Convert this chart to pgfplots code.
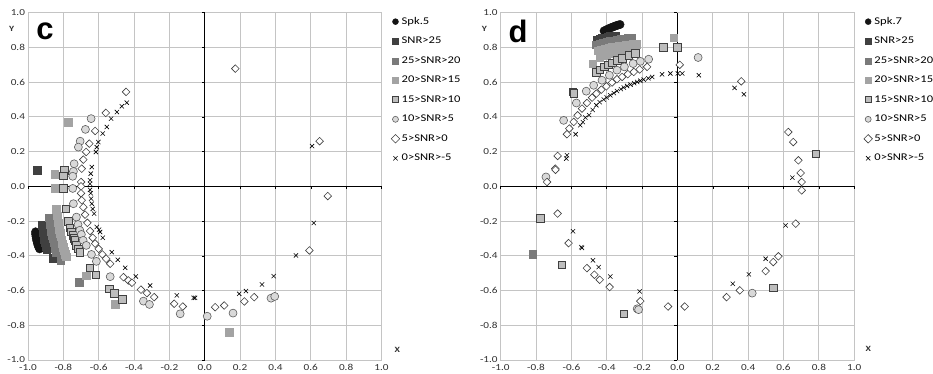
\documentclass[border=0pt]{standalone}
\usepackage{fontspec}
\setmainfont{Carlito}[FakeStretch=1.22]
\newfontfamily\arialfont{Liberation Sans}
\usepackage{pgfplots}
\pgfplotsset{compat=1.18}
\definecolor{cA}{HTML}{141414}
\definecolor{cB}{HTML}{404040}
\definecolor{cC}{HTML}{7A7A7A}
\definecolor{cD}{HTML}{A3A3A3}
\definecolor{cE}{HTML}{BDBDBD}
\definecolor{cF}{HTML}{D9D9D9}
\definecolor{gridc}{HTML}{C4C4C4}
\definecolor{tickc}{HTML}{303030}
\pgfplotsset{
 panel/.style={
  scale only axis, width=353.5pt, height=347.3pt,
  xmin=-1,xmax=1,ymin=-1,ymax=1, clip=false,
  xtick={-1,-0.8,-0.6,-0.4,-0.2,0,0.2,0.4,0.6,0.8,1},
  ytick={-1,-0.8,-0.6,-0.4,-0.2,0,0.2,0.4,0.6,0.8,1},
  xticklabels={-1.0,-0.8,-0.6,-0.4,-0.2,0.0,0.2,0.4,0.6,0.8,1.0},
  yticklabels={-1.0,-0.8,-0.6,-0.4,-0.2,0.0,0.2,0.4,0.6,0.8,1.0},
  grid=major, major grid style={draw=gridc, line width=0.9pt},
  axis line style={draw=gridc, line width=0.9pt},
  major tick length=0pt,
  tick label style={font=\fontsize{9.2}{10}\selectfont, text=tickc},
  xticklabel style={yshift=-0.5pt},
  yticklabel style={xshift=0.5pt},
  legend style={at={(1.027,0.993)}, anchor=north west, draw=none, fill=none,
     inner sep=0pt, font=\fontsize{10.3}{11}\selectfont, row sep=7.3pt,
     /tikz/every even column/.append style={column sep=-2pt}},
  legend cell align=left,
  legend image code/.code={\draw[##1,mark size=3pt] plot coordinates {(0pt,0pt)};},
 },
 sA/.style={only marks, mark=*, mark size=4.2pt, draw=cA, fill=cA},
 sB/.style={only marks, mark=square*, mark size=3.8pt, draw=cB, fill=cB},
 sC/.style={only marks, mark=square*, mark size=3.8pt, draw=cC, fill=cC},
 sD/.style={only marks, mark=square*, mark size=3.8pt, draw=cD, fill=cD},
 sE/.style={only marks, mark=square*, mark size=3.8pt, draw=cB, fill=cE, line width=0.7pt},
 sF/.style={only marks, mark=*, mark size=4pt, draw=cB!85, fill=cF, line width=0.6pt},
 sG/.style={only marks, mark=square*, mark size=2.7pt, mark options={rotate=45}, draw=cB, fill=white, line width=0.6pt},
 sH/.style={only marks, mark=x, mark size=3pt, draw=black, line width=0.6pt},
}
\newcommand\zeroaxes{%
 \draw[black, line width=0.8pt] (axis cs:-1,0) -- (axis cs:1,0);
 \draw[black, line width=0.8pt] (axis cs:0,-1) -- (axis cs:0,1);
 \pgfplotsinvokeforeach{-1,-0.8,-0.6,-0.4,-0.2,0.2,0.4,0.6,0.8,1}{%
   \draw[black, line width=0.6pt] (axis cs:##1,0) -- ++(0pt,-3pt);
   \draw[black, line width=0.6pt] (axis cs:0,##1) -- ++(-3pt,0pt);}%
}
\begin{document}
\begin{tikzpicture}
\useasboundingbox (0,0) rectangle (933pt,374pt);
% ---------------- panel c
\begin{axis}[panel, at={(28pt,14pt)}, anchor=south west]
\zeroaxes
\addplot[sA] coordinates {(-0.957,-0.262)(-0.957,-0.275)(-0.955,-0.288)(-0.953,-0.301)(-0.950,-0.314)(-0.947,-0.327)(-0.943,-0.339)(-0.939,-0.350)(-0.934,-0.360)};
\addlegendentry{Spk.5}
\addplot[sB] coordinates {(-0.918,-0.225)(-0.917,-0.245)(-0.915,-0.265)(-0.912,-0.285)(-0.908,-0.305)(-0.904,-0.325)(-0.900,-0.345)(-0.895,-0.365)(-0.949,0.092)(-0.860,-0.413)};
\addlegendentry{SNR>25}
\addplot[sC] coordinates {(-0.880,-0.180)(-0.878,-0.200)(-0.875,-0.220)(-0.872,-0.240)(-0.868,-0.260)(-0.864,-0.280)(-0.860,-0.300)(-0.855,-0.320)(-0.850,-0.340)(-0.845,-0.360)(-0.840,-0.380)(-0.815,-0.425)(-0.709,-0.552)};
\addlegendentry{25>SNR>20}
\addplot[sD] coordinates {(-0.840,-0.130)(-0.838,-0.150)(-0.835,-0.170)(-0.832,-0.190)(-0.830,-0.210)(-0.826,-0.230)(-0.822,-0.250)(-0.818,-0.270)(-0.814,-0.290)(-0.810,-0.310)(-0.805,-0.330)(-0.800,-0.350)(-0.795,-0.370)(-0.790,-0.390)(-0.785,-0.405)(-0.773,0.369)(-0.850,0.069)(-0.850,-0.010)(-0.507,-0.680)(0.140,-0.840)(-0.670,-0.515)};
\addlegendentry{20>SNR>15}
\addplot[sE] coordinates {(-0.794,0.092)(-0.800,0.060)(-0.800,-0.010)(-0.786,-0.130)(-0.773,-0.200)(-0.764,-0.240)(-0.754,-0.263)(-0.745,-0.282)(-0.740,-0.300)(-0.735,-0.311)(-0.726,-0.340)(-0.715,-0.360)(-0.707,-0.379)(-0.650,-0.470)(-0.616,-0.510)(-0.540,-0.590)(-0.513,-0.615)(-0.467,-0.650)};
\addlegendentry{15>SNR>10}
\addplot[sF] coordinates {(-0.643,0.390)(-0.675,0.328)(-0.705,0.260)(-0.715,0.226)(-0.739,0.130)(-0.743,0.086)(-0.747,0.058)(-0.747,-0.012)(-0.743,-0.100)(-0.726,-0.177)(-0.717,-0.220)(-0.707,-0.253)(-0.698,-0.277)(-0.688,-0.311)(-0.670,-0.340)(-0.641,-0.392)(-0.613,-0.432)(-0.535,-0.520)(-0.347,-0.661)(-0.313,-0.680)(-0.139,-0.734)(0.014,-0.748)(0.160,-0.730)(0.375,-0.644)(0.396,-0.634)};
\addlegendentry{10>SNR>5}
\addplot[sG] coordinates {(-0.445,0.544)(-0.560,0.423)(-0.620,0.319)(-0.653,0.246)(-0.671,0.198)(-0.687,0.154)(-0.696,0.102)(-0.700,0.025)(-0.700,0.000)(-0.700,-0.040)(-0.696,-0.080)(-0.687,-0.120)(-0.677,-0.163)(-0.664,-0.210)(-0.649,-0.257)(-0.634,-0.296)(-0.620,-0.330)(-0.600,-0.360)(-0.579,-0.392)(-0.558,-0.417)(-0.535,-0.446)(-0.460,-0.523)(-0.432,-0.542)(-0.412,-0.555)(-0.361,-0.595)(-0.327,-0.615)(-0.286,-0.638)(-0.173,-0.676)(-0.124,-0.692)(0.059,-0.696)(0.110,-0.686)(0.173,0.678)(0.650,0.260)(0.696,-0.056)(0.592,-0.369)(0.280,-0.638)(0.224,-0.663)};
\addlegendentry{5>SNR>0}
\addplot[sH] coordinates {(-0.441,0.482)(-0.469,0.461)(-0.497,0.428)(-0.530,0.390)(-0.554,0.342)(-0.577,0.304)(-0.602,0.255)(-0.611,0.226)(-0.616,0.198)(-0.639,0.111)(-0.645,0.073)(-0.649,0.035)(-0.649,0.015)(-0.649,-0.020)(-0.645,-0.040)(-0.643,-0.071)(-0.639,-0.100)(-0.634,-0.130)(-0.626,-0.157)(-0.611,-0.234)(-0.598,-0.250)(-0.592,-0.263)(-0.577,-0.296)(-0.526,-0.379)(-0.492,-0.423)(-0.450,-0.469)(-0.390,-0.519)(-0.309,-0.571)(-0.158,-0.628)(-0.063,-0.642)(-0.055,-0.642)(0.195,-0.619)(0.233,-0.603)(0.324,-0.565)(0.390,-0.517)(0.516,-0.398)(0.617,-0.211)(0.607,0.232)};
\addlegendentry{0>SNR>-5}
\node[font=\bfseries\fontsize{8}{9}\selectfont, text=tickc] at (rel axis cs:-0.046,0.952) {Y};
\node[font=\bfseries\fontsize{8}{9}\selectfont, text=tickc] at (rel axis cs:1.045,0.03) {X};
\node[font=\arialfont\bfseries\fontsize{31}{31}\selectfont] at (rel axis cs:0.048,0.945) {c};
\end{axis}
% ---------------- panel d
\begin{axis}[panel, at={(500.7pt,14pt)}, anchor=south west]
\zeroaxes
\addplot[sA] coordinates {(-0.415,0.895)(-0.405,0.900)(-0.395,0.905)(-0.385,0.910)(-0.375,0.914)(-0.365,0.918)(-0.355,0.922)(-0.345,0.926)(-0.335,0.929)(-0.325,0.932)};
\addlegendentry{Spk.7}
\addplot[sB] coordinates {(-0.455,0.845)(-0.440,0.849)(-0.425,0.853)(-0.410,0.857)(-0.395,0.860)(-0.380,0.863)(-0.365,0.866)(-0.350,0.868)};
\addlegendentry{SNR>25}
\addplot[sC] coordinates {(-0.460,0.815)(-0.440,0.820)(-0.420,0.825)(-0.400,0.830)(-0.380,0.835)(-0.360,0.839)(-0.340,0.843)(-0.320,0.846)(-0.300,0.849)(-0.280,0.852)(-0.260,0.855)(-0.820,-0.390)};
\addlegendentry{25>SNR>20}
\addplot[sD] coordinates {(-0.450,0.780)(-0.430,0.785)(-0.410,0.790)(-0.390,0.795)(-0.370,0.800)(-0.350,0.803)(-0.330,0.806)(-0.310,0.809)(-0.290,0.812)(-0.270,0.815)(-0.250,0.818)(-0.235,0.820)(-0.440,0.740)(-0.400,0.755)(-0.360,0.765)(-0.320,0.775)(-0.280,0.785)(-0.240,0.790)(-0.480,0.707)(-0.021,0.855)};
\addlegendentry{20>SNR>15}
\addplot[sE] coordinates {(-0.591,0.544)(-0.587,0.535)(-0.459,0.655)(-0.440,0.672)(-0.414,0.688)(-0.390,0.700)(-0.370,0.711)(-0.340,0.725)(-0.313,0.736)(-0.276,0.755)(-0.238,0.765)(-0.081,0.800)(-0.002,0.801)(-0.776,-0.186)(-0.653,-0.451)(-0.304,-0.734)(0.782,0.188)(0.542,-0.584)};
\addlegendentry{15>SNR>10}
\addplot[sF] coordinates {(-0.744,0.054)(-0.644,0.380)(-0.572,0.480)(-0.516,0.548)(-0.474,0.582)(-0.427,0.611)(-0.385,0.640)(-0.342,0.669)(-0.300,0.688)(-0.251,0.707)(-0.210,0.720)(-0.163,0.732)(0.117,0.742)(-0.228,-0.705)(-0.220,-0.710)(0.423,-0.615)};
\addlegendentry{10>SNR>5}
\addplot[sG] coordinates {(-0.738,0.025)(-0.691,0.102)(-0.690,0.095)(-0.678,0.175)(-0.625,0.300)(-0.612,0.333)(-0.587,0.371)(-0.565,0.409)(-0.540,0.448)(-0.512,0.480)(-0.483,0.511)(-0.459,0.534)(-0.431,0.557)(-0.402,0.576)(-0.370,0.598)(-0.342,0.617)(-0.313,0.630)(-0.281,0.646)(-0.247,0.659)(-0.214,0.673)(-0.172,0.688)(0.013,0.700)(-0.678,-0.157)(-0.616,-0.327)(-0.512,-0.471)(-0.470,-0.509)(-0.440,-0.538)(-0.384,-0.580)(-0.210,-0.661)(-0.053,-0.692)(0.041,-0.692)(0.361,0.605)(0.627,0.313)(0.655,0.255)(0.684,0.150)(0.697,0.077)(0.703,0.025)(0.703,-0.023)(0.669,-0.215)(0.571,-0.403)(0.542,-0.436)(0.499,-0.488)(0.353,-0.599)(0.278,-0.638)};
\addlegendentry{5>SNR>0}
\addplot[sH] coordinates {(-0.576,0.300)(-0.625,0.179)(-0.629,0.160)(-0.550,0.352)(-0.535,0.370)(-0.521,0.396)(-0.500,0.410)(-0.480,0.440)(-0.459,0.467)(-0.440,0.485)(-0.417,0.500)(-0.400,0.512)(-0.380,0.524)(-0.360,0.537)(-0.342,0.549)(-0.320,0.560)(-0.304,0.569)(-0.285,0.578)(-0.266,0.586)(-0.245,0.594)(-0.228,0.601)(-0.210,0.608)(-0.191,0.615)(-0.165,0.622)(-0.143,0.630)(-0.087,0.645)(-0.040,0.650)(0.002,0.650)(0.027,0.650)(0.121,0.640)(0.323,0.567)(0.376,0.530)(0.650,0.050)(0.612,-0.225)(0.499,-0.417)(0.404,-0.507)(0.313,-0.561)(-0.591,-0.259)(-0.544,-0.350)(-0.540,-0.355)(-0.478,-0.426)(-0.446,-0.465)(-0.380,-0.519)(-0.214,-0.605)};
\addlegendentry{0>SNR>-5}
\node[font=\bfseries\fontsize{8}{9}\selectfont, text=tickc] at (rel axis cs:-0.046,0.952) {Y};
\node[font=\bfseries\fontsize{8}{9}\selectfont, text=tickc] at (rel axis cs:1.04,0.032) {X};
\node[font=\arialfont\bfseries\fontsize{31}{31}\selectfont] at (rel axis cs:0.049,0.945) {d};
\end{axis}
\end{tikzpicture}
\end{document}
